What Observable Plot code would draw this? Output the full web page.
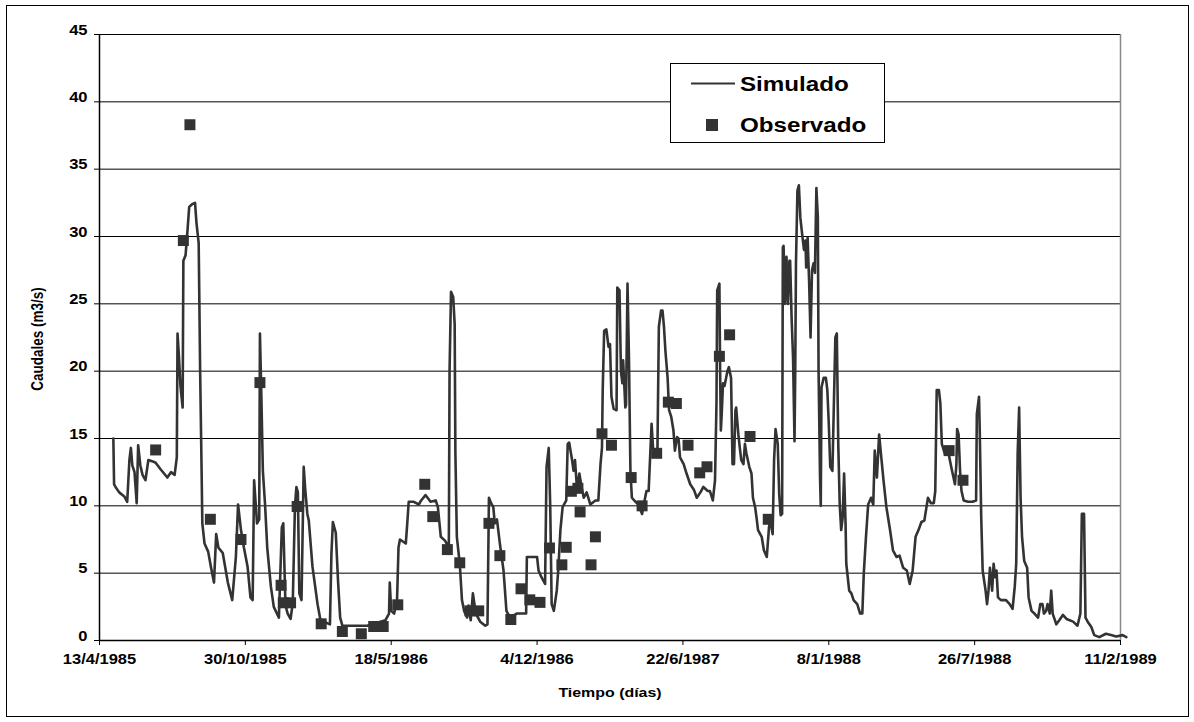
<!DOCTYPE html>
<html>
<head>
<meta charset="utf-8">
<script src="https://cdn.jsdelivr.net/npm/d3@7"></script>
<script src="https://cdn.jsdelivr.net/npm/@observablehq/plot@0.6"></script>
<style>
  body { margin: 0; background: #fff; }
  #wrap { position: relative; width: 1194px; height: 722px; font-family: "Liberation Sans", Arial, sans-serif; }
  #frame { position: absolute; left: 6px; top: 5px; width: 1181px; height: 710px; border: 1px solid #000; box-sizing: content-box; }
  #overlay { position: absolute; left: 0; top: 0; pointer-events: none; }
</style>
</head>
<body>
<div id="wrap"><div id="frame"></div></div>
<script>
// Days are counted from 13/4/1985 (day 0); flows in m3/s.
const tickDays = [0, 200, 400, 600, 800, 1000, 1200, 1400];
const tickLabels = ["13/4/1985", "30/10/1985", "18/5/1986", "4/12/1986", "22/6/1987", "8/1/1988", "26/7/1988", "11/2/1989"];
const yTicks = [0, 5, 10, 15, 20, 25, 30, 35, 40, 45];

// Simulated discharge: [day, flow]
const simulado = [
  [19,15.0],[20,11.6],[22,11.4],[27,11.0],[34,10.7],[38,10.3],[41,13.4],[43,14.3],[45,13.0],[48,12.5],
  [51,10.2],[53,14.5],[56,13.0],[59,12.3],[63,11.9],[67,13.4],[73,13.3],[77,13.2],[84,12.7],[93,12.1],
  [98,12.5],[103,12.3],[106,13.6],[107,22.8],[109,21.0],[111,18.9],[114,17.3],[115,28.2],[118,28.6],[121,30.7],
  [123,32.2],[127,32.4],[131,32.5],[133,31.0],[136,29.5],[138,20.0],[140,12.6],[141,8.7],[144,7.2],[149,6.6],
  [153,5.4],[157,4.3],[160,7.9],[163,6.9],[169,6.5],[176,4.3],[182,3.0],[187,6.2],[190,10.1],[194,8.2],
  [198,6.9],[203,5.5],[207,3.2],[210,3.0],[212,11.9],[216,8.7],[219,9.0],[220,22.8],[222,18.0],[224,12.6],
  [227,10.1],[230,6.9],[235,4.0],[239,2.5],[246,1.7],[250,8.4],[252,8.7],[255,2.6],[258,2.0],[262,1.6],
  [265,2.8],[268,10.0],[270,11.4],[272,11.0],[274,3.5],[277,3.0],[280,12.9],[282,11.3],[285,9.4],[287,8.9],
  [292,5.5],[299,2.7],[303,1.5],[316,1.2],[318,6.4],[320,8.8],[324,8.0],[327,4.5],[330,1.7],[333,1.1],
  [362,1.1],[367,1.1],[392,1.5],[397,2.0],[398,4.3],[400,2.2],[404,2.0],[408,3.0],[410,6.9],[412,7.5],
  [420,7.2],[422,8.7],[424,10.3],[431,10.3],[438,10.1],[441,10.4],[447,10.8],[454,10.3],[461,10.4],[464,9.9],
  [468,7.7],[474,7.4],[479,6.9],[480,20.0],[482,25.9],[485,25.5],[487,23.5],[488,13.9],[490,7.7],[494,5.7],
  [497,3.0],[500,2.2],[504,1.7],[506,2.6],[509,1.5],[512,3.5],[516,2.0],[522,1.4],[529,1.1],[532,1.2],
  [534,10.6],[537,10.2],[540,9.9],[542,8.7],[545,9.0],[549,7.2],[554,5.2],[558,2.2],[563,1.7],[572,2.0],
  [585,2.0],[586,6.2],[600,6.2],[602,5.2],[606,4.7],[611,4.2],[613,12.9],[616,14.3],[618,10.1],[620,2.7],
  [623,2.2],[627,3.7],[629,5.2],[632,8.2],[635,9.9],[640,10.4],[642,14.6],[644,14.7],[648,13.4],[650,12.6],
  [652,13.4],[655,11.1],[658,12.4],[661,11.4],[664,10.6],[668,11.0],[673,10.1],[680,10.4],[684,10.4],[687,13.1],
  [689,14.3],[690,18.6],[692,23.0],[695,23.1],[698,21.8],[700,22.0],[702,18.1],[705,17.2],[709,17.1],[710,26.2],
  [713,26.0],[715,20.0],[717,19.1],[718,20.8],[721,17.3],[722,17.5],[724,26.5],[726,21.0],[728,12.6],[730,10.6],
  [735,10.3],[739,10.1],[744,9.4],[746,10.0],[750,11.1],[753,11.1],[755,13.6],[757,16.1],[759,14.3],[762,13.9],
  [765,13.9],[767,23.3],[770,24.5],[772,24.5],[774,23.3],[776,21.5],[779,19.5],[781,17.1],[784,16.6],[787,15.6],
  [789,14.1],[792,15.1],[794,15.0],[796,13.6],[801,13.1],[805,12.4],[810,11.6],[815,11.2],[819,10.6],[824,11.0],
  [828,11.4],[834,11.1],[837,11.1],[841,10.4],[844,11.9],[846,17.6],[847,26.0],[850,26.5],[851,20.0],[852,15.6],
  [853,16.6],[855,19.1],[857,18.9],[861,20.0],[863,20.3],[866,19.5],[868,13.1],[870,13.1],[872,17.1],[873,17.3],
  [876,15.3],[878,14.3],[880,13.4],[883,13.1],[885,14.6],[887,13.9],[891,12.9],[894,12.4],[896,10.6],[899,9.9],
  [901,9.1],[903,8.2],[908,7.7],[911,6.7],[915,6.2],[918,8.4],[920,8.9],[923,7.9],[925,13.4],[927,15.7],
  [930,14.6],[932,10.9],[934,9.3],[936,9.4],[937,29.2],[938,29.3],[940,25.0],[942,28.5],[944,25.0],[946,28.2],
  [947,28.2],[949,24.0],[951,21.0],[953,14.8],[954,20.0],[955,28.0],[957,33.4],[959,33.8],[961,31.4],[963,30.4],
  [966,29.0],[968,29.7],[969,27.7],[971,29.9],[973,26.7],[975,22.5],[977,27.5],[979,28.0],[981,27.3],[983,33.6],
  [985,31.4],[986,20.0],[988,12.1],[989,10.0],[990,18.8],[993,19.5],[996,19.5],[998,18.6],[1000,16.1],[1002,12.9],
  [1005,12.6],[1007,17.6],[1009,22.5],[1011,22.8],[1013,14.6],[1015,10.1],[1017,8.2],[1019,9.1],[1021,12.4],[1023,8.7],
  [1024,5.7],[1028,3.7],[1031,3.5],[1034,3.0],[1039,2.7],[1043,2.0],[1046,2.0],[1048,5.0],[1051,7.7],[1054,10.1],
  [1058,10.6],[1061,10.1],[1063,14.1],[1066,12.1],[1069,15.3],[1072,13.6],[1075,11.9],[1079,9.9],[1084,8.2],[1088,6.7],
  [1093,6.2],[1097,6.3],[1102,5.4],[1107,5.2],[1111,4.2],[1115,5.2],[1119,7.7],[1123,8.2],[1127,8.8],[1131,8.9],
  [1136,10.6],[1140,10.2],[1144,10.2],[1146,11.1],[1148,18.6],[1151,18.6],[1153,17.6],[1155,14.6],[1159,13.9],[1163,14.3],
  [1166,13.4],[1169,12.6],[1173,11.6],[1175,13.1],[1176,15.7],[1178,15.3],[1180,12.6],[1182,11.1],[1185,10.4],[1191,10.3],
  [1197,10.3],[1202,10.4],[1203,16.8],[1206,18.1],[1207,15.6],[1209,9.2],[1211,5.2],[1215,3.7],[1217,2.7],[1219,3.7],
  [1221,5.4],[1224,3.7],[1226,5.7],[1228,4.7],[1230,5.2],[1232,3.2],[1236,3.0],[1243,3.0],[1248,2.7],[1252,2.35],
  [1255,4.0],[1257,5.7],[1259,13.9],[1261,17.3],[1263,10.6],[1265,7.7],[1268,5.9],[1272,5.4],[1274,3.2],[1278,2.2],
  [1282,2.0],[1287,1.7],[1290,2.7],[1293,2.7],[1295,2.0],[1298,2.2],[1300,2.7],[1303,2.0],[1305,3.7],[1307,2.0],
  [1312,1.2],[1316,1.5],[1321,1.9],[1326,1.6],[1335,1.4],[1341,1.1],[1345,2.0],[1347,9.4],[1350,9.4],[1352,1.7],
  [1355,1.4],[1360,1.0],[1364,0.4],[1371,0.25],[1380,0.5],[1387,0.4],[1394,0.3],[1403,0.4],[1408,0.25]
];

// Observed discharge: [day, flow]
const observado = [
  [77,14.15],[115,29.7],[124,38.3],[152,9.0],[194,7.5],[220,19.15],[249,4.1],[252,2.8],[262,2.8],[271,9.95],
  [304,1.24],[333,0.67],[359,0.5],[376,1.04],[389,1.04],[409,2.65],[446,11.6],[457,9.2],[477,6.75],[494,5.77],
  [508,2.2],[520,2.2],[534,8.7],[549,6.3],[564,1.56],[578,3.84],[590,3.02],[604,2.83],[617,6.87],[634,5.62],
  [640,6.92],[647,11.08],[656,11.3],[659,9.55],[674,5.62],[680,7.7],[689,15.35],[702,14.5],[729,12.1],[744,10.0],
  [764,13.9],[780,17.7],[791,17.6],[807,14.5],[823,12.45],[833,12.9],[850,21.1],[864,22.7],[892,15.15],[917,9.0],
  [1165,14.1],[1184,11.9]
];

const ink = "#333";
const stretch = 1.18; // glyphs in this chart are set wide

const chart = Plot.plot({
  width: 1194,
  height: 722,
  marginLeft: 99,
  marginRight: 74,
  marginTop: 34,
  marginBottom: 82,
  style: {
    position: "absolute", left: "0px", top: "0px", background: "transparent",
    fontFamily: "\"Liberation Sans\", Arial, sans-serif", fontSize: "14px", fontWeight: "bold", color: "#000"
  },
  x: {
    domain: [0, 1400], ticks: tickDays,
    tickFormat: d => tickLabels[tickDays.indexOf(d)],
    tickSize: 5, tickPadding: 18, label: null
  },
  y: {
    domain: [0, 45], ticks: yTicks,
    tickSize: 5, tickPadding: 7, label: null
  },
  marks: [
    Plot.ruleY(yTicks.filter(v => v > 0), {stroke: "#000", strokeWidth: 1}),
    Plot.ruleX([1400], {stroke: "#888", strokeWidth: 1.5}),
    Plot.ruleY([0], {stroke: "#000", strokeWidth: 1.5}),
    Plot.ruleX([0], {stroke: "#000", strokeWidth: 1.5}),
    Plot.line(simulado, {x: d => d[0], y: d => d[1], stroke: ink, strokeWidth: 2.6, strokeLinejoin: "round"}),
    Plot.dot(observado, {x: d => d[0], y: d => d[1], symbol: "square", r: 6.2, fill: ink, stroke: "none"})
  ]
});

// Widen tick labels horizontally about their anchor point.
chart.querySelectorAll('[aria-label*="axis"] text').forEach(t => {
  const x = +t.getAttribute("x") || 0, y = +t.getAttribute("y") || 0;
  t.removeAttribute("x"); t.removeAttribute("y");
  const tr = t.getAttribute("transform") || "";
  t.setAttribute("transform", `${tr} translate(${x},${y}) scale(${stretch},1)`);
});

const wrap = document.getElementById("wrap");
wrap.appendChild(chart);

// Axis titles and legend box drawn on top of the plot.
const ov = d3.select(wrap).append("svg")
  .attr("id", "overlay").attr("width", 1194).attr("height", 722)
  .style("font-family", "\"Liberation Sans\", Arial, sans-serif").style("font-weight", "bold");

ov.append("text").attr("transform", `translate(610,697) scale(${stretch},1)`)
  .attr("text-anchor", "middle").attr("font-size", 13.5).text("Tiempo (días)");
ov.append("text").attr("transform", `translate(43,339) scale(${stretch},1) rotate(-90)`)
  .attr("text-anchor", "middle").attr("font-size", 13.5).text("Caudales (m3/s)");

const lg = ov.append("g");
lg.append("rect").attr("x", 670.5).attr("y", 63.5).attr("width", 214).attr("height", 79)
  .attr("fill", "#fff").attr("stroke", "#000").attr("stroke-width", 1);
lg.append("line").attr("x1", 691).attr("x2", 735).attr("y1", 83.5).attr("y2", 83.5)
  .attr("stroke", ink).attr("stroke-width", 2);
lg.append("text").attr("transform", `translate(740,90.5) scale(${stretch},1)`)
  .attr("font-size", 20.5).text("Simulado");
lg.append("rect").attr("x", 706).attr("y", 119).attr("width", 12).attr("height", 12).attr("fill", ink);
lg.append("text").attr("transform", `translate(740,131.5) scale(${stretch},1)`)
  .attr("font-size", 20.5).text("Observado");
</script>
</body>
</html>
